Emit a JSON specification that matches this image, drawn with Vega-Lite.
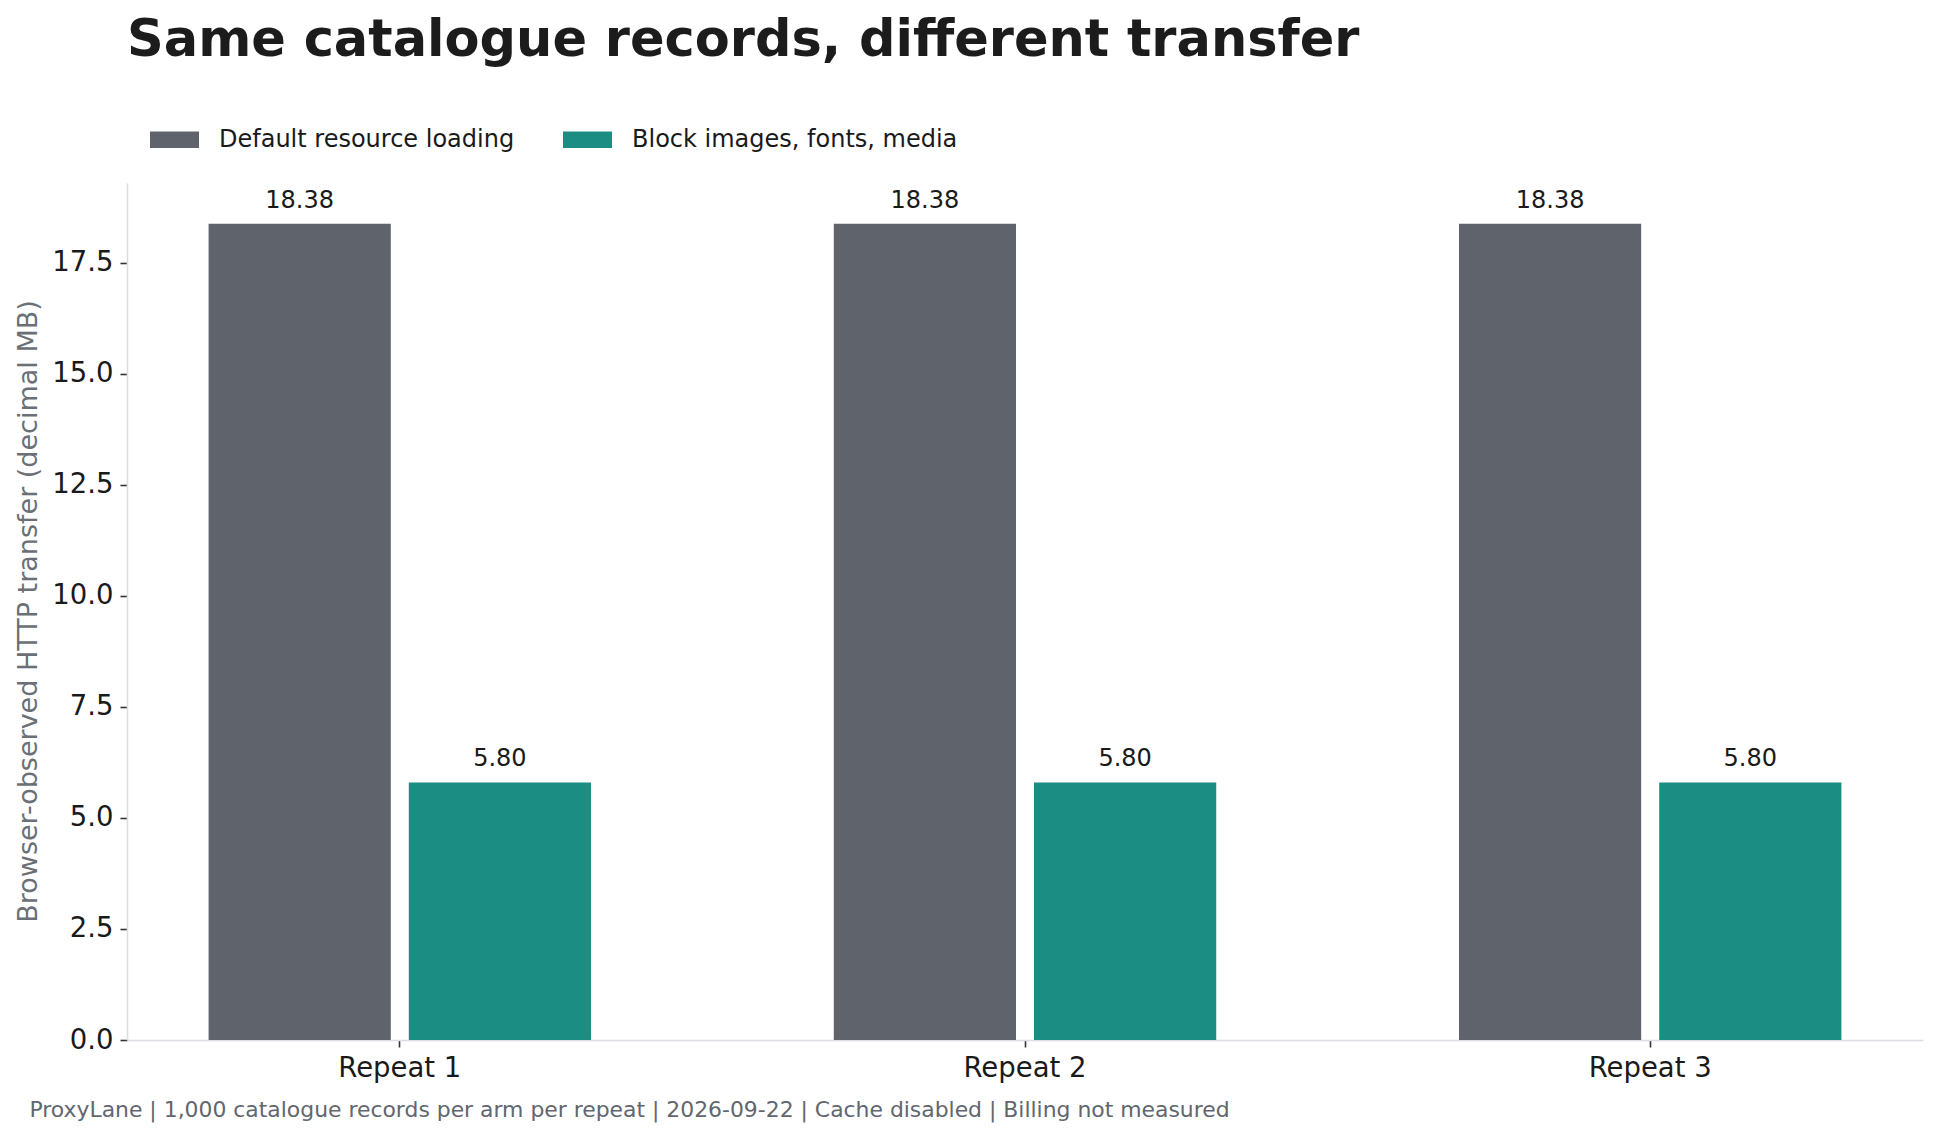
{
  "$schema": "https://vega.github.io/schema/vega-lite/v6.json",
  "autosize": {"type": "none"},
  "width": 1796,
  "height": 857,
  "padding": {"left": 127, "top": 183, "right": 15, "bottom": 97},
  "background": "white",
  "config": {
    "font": "DejaVu Sans",
    "view": {"stroke": null},
    "axis": {
      "labelFont": "DejaVu Sans",
      "titleFont": "DejaVu Sans",
      "labelFontSize": 27.5,
      "labelColor": "#1a1a1a",
      "domainColor": "#dcdde2",
      "domainWidth": 1.6,
      "tickColor": "#333333",
      "tickWidth": 1.6,
      "tickSize": 7,
      "labelPadding": 7,
      "grid": false
    }
  },
  "title": {
    "text": "Same catalogue records, different transfer",
    "anchor": "start",
    "frame": "group",
    "font": "DejaVu Sans",
    "fontSize": 51,
    "fontWeight": "bold",
    "color": "#1c1c1c",
    "baseline": "alphabetic",
    "offset": 8
  },
  "data": {
    "values": [
      {"repeat": "Repeat 1", "arm": "Default resource loading", "mb": 18.38},
      {"repeat": "Repeat 1", "arm": "Block images, fonts, media", "mb": 5.80},
      {"repeat": "Repeat 2", "arm": "Default resource loading", "mb": 18.38},
      {"repeat": "Repeat 2", "arm": "Block images, fonts, media", "mb": 5.80},
      {"repeat": "Repeat 3", "arm": "Default resource loading", "mb": 18.38},
      {"repeat": "Repeat 3", "arm": "Block images, fonts, media", "mb": 5.80}
    ]
  },
  "encoding": {
    "x": {
      "field": "repeat",
      "type": "nominal",
      "sort": null,
      "scale": {"paddingInner": 0.3883, "paddingOuter": 0.1305},
      "axis": {
        "labelAngle": 0,
        "labelBaseline": "top",
        "title": "ProxyLane | 1,000 catalogue records per arm per repeat | 2026-09-22 | Cache disabled | Billing not measured",
        "titleFontSize": 21.9,
        "titleFontWeight": "normal",
        "titleColor": "#62666e",
        "titleAlign": "left",
        "titleAnchor": "start",
        "titleBaseline": "alphabetic",
        "titleX": -98,
        "titleY": 76
      }
    },
    "xOffset": {
      "field": "arm",
      "type": "nominal",
      "sort": ["Default resource loading", "Block images, fonts, media"],
      "scale": {"paddingInner": 0.09, "paddingOuter": 0}
    },
    "y": {
      "field": "mb",
      "type": "quantitative",
      "scale": {"domain": [0, 19.3], "nice": false, "zero": true},
      "axis": {
        "values": [0, 2.5, 5, 7.5, 10, 12.5, 15, 17.5],
        "format": ".1f",
        "title": "Browser-observed HTTP transfer (decimal MB)",
        "titleFontSize": 27,
        "titleFontWeight": "normal",
        "titleColor": "#6b6f76",
        "titleBaseline": "alphabetic",
        "titleX": -91,
        "titleY": 428
      }
    }
  },
  "layer": [
    {
      "mark": {"type": "bar"},
      "encoding": {
        "color": {
          "field": "arm",
          "type": "nominal",
          "sort": ["Default resource loading", "Block images, fonts, media"],
          "scale": {
            "domain": ["Default resource loading", "Block images, fonts, media"],
            "range": ["#5f636b", "#1b8d82"]
          },
          "legend": {
            "title": null,
            "orient": "none",
            "direction": "horizontal",
            "legendX": 23,
            "legendY": -68,
            "padding": 0,
            "symbolType": "M-1,-0.34H1V0.34H-1Z",
            "symbolSize": 2401,
            "symbolStrokeWidth": 0,
            "labelFont": "DejaVu Sans",
            "labelFontSize": 24,
            "labelColor": "#1a1a1a",
            "labelOffset": 20,
            "columnPadding": 48,
            "labelLimit": 600
          }
        }
      }
    },
    {
      "mark": {
        "type": "text",
        "baseline": "alphabetic",
        "dy": -16,
        "fontSize": 24,
        "font": "DejaVu Sans",
        "color": "#1a1a1a"
      },
      "encoding": {
        "text": {"field": "mb", "type": "quantitative", "format": ".2f"}
      }
    }
  ]
}
